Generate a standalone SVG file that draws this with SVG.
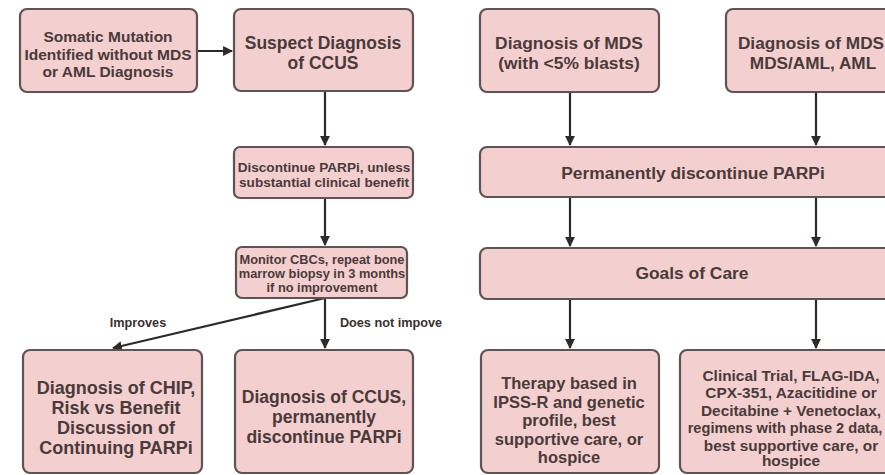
<svg xmlns="http://www.w3.org/2000/svg" width="885" height="475" viewBox="0 0 885 475">
<defs>
<marker id="ah" viewBox="0 0 10 10" refX="9" refY="5" markerWidth="4.5" markerHeight="4.5" orient="auto" markerUnits="strokeWidth">
<path d="M0,0 L10,5 L0,10 z" fill="#2f2a2a"/>
</marker>
<style>
.box{fill:#f3cfcf;stroke:#5e5454;stroke-width:2.2}
.t{font-family:"Liberation Sans",Arial,sans-serif;font-weight:bold;fill:#4a3a3a;text-anchor:middle}
.c{stroke:#2f2a2a;stroke-width:2.2;fill:none;marker-end:url(#ah)}
.lbl{font-family:"Liberation Sans",Arial,sans-serif;font-weight:bold;fill:#3a3030;font-size:12.7px;text-anchor:middle}
</style>
</defs>
<rect width="885" height="475" fill="#ffffff"/>
<g id="connectors">
<line class="c" x1="197" y1="51" x2="232" y2="51"/>
<line class="c" x1="325" y1="91" x2="325" y2="145"/>
<line class="c" x1="325" y1="198" x2="325" y2="245"/>
<line class="c" x1="325" y1="298" x2="325" y2="348"/>
<line class="c" x1="325" y1="298" x2="113" y2="348"/>
<line class="c" x1="570" y1="92" x2="570" y2="145"/>
<line class="c" x1="816" y1="92" x2="816" y2="145"/>
<line class="c" x1="570" y1="197" x2="570" y2="246"/>
<line class="c" x1="816" y1="197" x2="816" y2="246"/>
<line class="c" x1="570" y1="299" x2="570" y2="348"/>
<line class="c" x1="816" y1="299" x2="816" y2="348"/>
<text class="lbl" x="138" y="327">Improves</text>
<text class="lbl" x="391" y="327">Does not impove</text>
</g>
<g id="n1">
<rect class="box" x="20" y="9" width="177" height="83" rx="7"/>
<text class="t" font-size="15.5" x="108" y="42">Somatic Mutation</text>
<text class="t" font-size="15.5" x="108" y="59.5">Identified without MDS</text>
<text class="t" font-size="15.5" x="108" y="77">or AML Diagnosis</text>
</g>
<g id="n2">
<rect class="box" x="234" y="9" width="179" height="82" rx="7"/>
<text class="t" font-size="17.5" x="323" y="49">Suspect Diagnosis</text>
<text class="t" font-size="17.5" x="323" y="69">of CCUS</text>
</g>
<g id="n3">
<rect class="box" x="234" y="147" width="179" height="51" rx="6"/>
<text class="t" font-size="13.6" x="324" y="172">Discontinue PARPi, unless</text>
<text class="t" font-size="13.6" x="324" y="187">substantial clinical benefit</text>
</g>
<g id="n4">
<rect class="box" x="236" y="247" width="171" height="51" rx="6"/>
<text class="t" font-size="12.8" x="322" y="263.5">Monitor CBCs, repeat bone</text>
<text class="t" font-size="12.8" x="322" y="277.5">marrow biopsy in 3 months</text>
<text class="t" font-size="12.8" x="322" y="291.5">if no improvement</text>
</g>
<g id="n5">
<rect class="box" x="23" y="350" width="179" height="123" rx="7"/>
<text class="t" font-size="18" x="116" y="394">Diagnosis of CHIP,</text>
<text class="t" font-size="18" x="116" y="414">Risk vs Benefit</text>
<text class="t" font-size="18" x="116" y="434">Discussion of</text>
<text class="t" font-size="18" x="116" y="454">Continuing PARPi</text>
</g>
<g id="n6">
<rect class="box" x="235" y="350" width="178" height="123" rx="7"/>
<text class="t" font-size="17.5" x="324" y="403">Diagnosis of CCUS,</text>
<text class="t" font-size="17.5" x="324" y="423">permanently</text>
<text class="t" font-size="17.5" x="324" y="443">discontinue PARPi</text>
</g>
<g id="n7">
<rect class="box" x="480" y="9" width="179" height="83" rx="7"/>
<text class="t" font-size="17.4" x="569" y="49">Diagnosis of MDS</text>
<text class="t" font-size="17.4" x="569" y="69">(with &lt;5% blasts)</text>
</g>
<g id="n8">
<rect class="box" x="726" y="9" width="180" height="83" rx="7"/>
<text class="t" font-size="17.2" x="811" y="49">Diagnosis of MDS</text>
<text class="t" font-size="17.2" x="813" y="69">MDS/AML, AML</text>
</g>
<g id="n9">
<rect class="box" x="480" y="147" width="426" height="50" rx="7"/>
<text class="t" font-size="17.4" x="693" y="179">Permanently discontinue PARPi</text>
</g>
<g id="n10">
<rect class="box" x="480" y="248" width="426" height="51" rx="7"/>
<text class="t" font-size="17.4" x="692" y="279">Goals of Care</text>
</g>
<g id="n11">
<rect class="box" x="481" y="350" width="178" height="123" rx="7"/>
<text class="t" font-size="16.5" x="569" y="389">Therapy based in</text>
<text class="t" font-size="16.5" x="569" y="407.5">IPSS-R and genetic</text>
<text class="t" font-size="16.5" x="569" y="426">profile, best</text>
<text class="t" font-size="16.5" x="569" y="444.5">supportive care, or</text>
<text class="t" font-size="16.5" x="569" y="463">hospice</text>
</g>
<g id="n12">
<rect class="box" x="680" y="350" width="222" height="123" rx="7"/>
<text class="t" font-size="15.4" x="791" y="380.5">Clinical Trial, FLAG-IDA,</text>
<text class="t" font-size="15.4" x="791" y="398">CPX-351, Azacitidine or</text>
<text class="t" font-size="15.4" x="791" y="415.5">Decitabine + Venetoclax,</text>
<text class="t" font-size="14.6" x="785" y="433">regimens with phase 2 data,</text>
<text class="t" font-size="15.4" x="791" y="450.5">best supportive care, or</text>
<text class="t" font-size="15.4" x="791" y="466">hospice</text>
</g>
</svg>
